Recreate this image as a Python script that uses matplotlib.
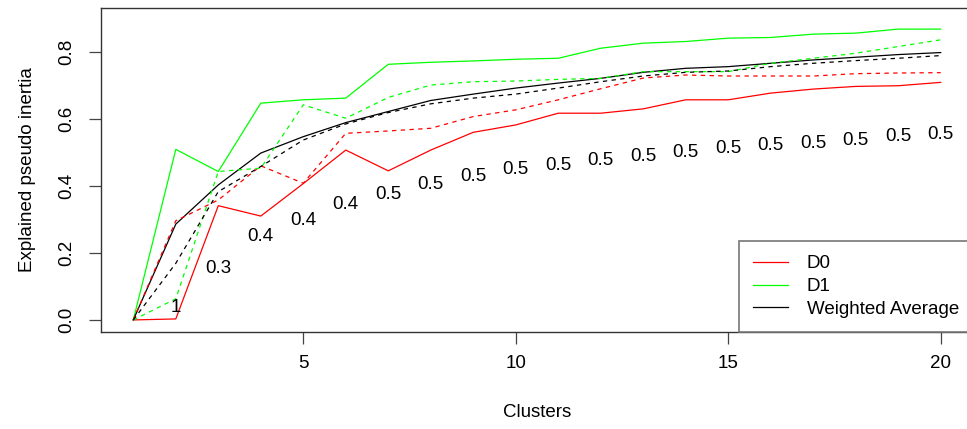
import matplotlib
matplotlib.use("Agg")
import matplotlib.pyplot as plt

plt.rcParams['font.family'] = ['Liberation Sans', 'DejaVu Sans']

# Number of clusters on the x axis
clusters = list(range(1, 21))

# Solid lines
d0 = [0, 0.003, 0.341, 0.31, 0.407, 0.507, 0.445, 0.507, 0.56, 0.582,
      0.617, 0.617, 0.63, 0.657, 0.657, 0.677, 0.689, 0.697, 0.699, 0.709]
d1 = [0, 0.509, 0.443, 0.647, 0.657, 0.662, 0.763, 0.769, 0.773, 0.778,
      0.781, 0.811, 0.826, 0.831, 0.841, 0.843, 0.853, 0.856, 0.868, 0.868]
wavg = [0, 0.286, 0.403, 0.498, 0.547, 0.589, 0.622, 0.655, 0.674, 0.692,
        0.707, 0.721, 0.739, 0.751, 0.756, 0.766, 0.776, 0.784, 0.792, 0.798]

# Dashed lines
d0_dash = [0, 0.296, 0.358, 0.46, 0.408, 0.557, 0.564, 0.572, 0.607, 0.627,
           0.657, 0.69, 0.722, 0.731, 0.728, 0.728, 0.728, 0.735, 0.737, 0.738]
d1_dash = [0, 0.063, 0.443, 0.453, 0.642, 0.602, 0.664, 0.701, 0.711, 0.713,
           0.718, 0.721, 0.741, 0.741, 0.741, 0.766, 0.781, 0.796, 0.816, 0.836]
wavg_dash = [0, 0.169, 0.383, 0.458, 0.537, 0.585, 0.619, 0.645, 0.662, 0.674,
             0.692, 0.711, 0.728, 0.739, 0.743, 0.756, 0.766, 0.774, 0.781, 0.789]

# Text labels written on the plot (clusters 2..20)
label_x = list(range(2, 21))
label_text = ["1", "0.3", "0.4", "0.4", "0.4"] + ["0.5"] * 14
label_y = [0.036, 0.155, 0.248, 0.296, 0.345, 0.373, 0.403, 0.427, 0.448, 0.46,
           0.475, 0.487, 0.5, 0.513, 0.52, 0.528, 0.537, 0.546, 0.552]


def draw_plot():
    fig = plt.figure(figsize=(9.67, 4.29), dpi=100)
    ax = fig.add_axes([101 / 967, 97 / 429, 872 / 967, 324 / 429])

    fs = 13.5
    lw = 0.9
    dash = (0, (3.5, 3.5))
    ax.plot(clusters, d0, color='#ff0000', linewidth=lw, label='D0')
    ax.plot(clusters, d1, color='#00ff00', linewidth=lw, label='D1')
    ax.plot(clusters, wavg, color='black', linewidth=lw, label='Weighted Average')
    ax.plot(clusters, d0_dash, color='#ff0000', linewidth=lw, linestyle=dash)
    ax.plot(clusters, d1_dash, color='#00ff00', linewidth=lw, linestyle=dash)
    ax.plot(clusters, wavg_dash, color='black', linewidth=lw, linestyle=dash)

    for x, y, t in zip(label_x, label_y, label_text):
        ax.text(x, y, t, ha='center', va='center', fontsize=fs)

    ax.set_xlim(0.24, 20.76)
    ax.set_ylim(-0.036, 0.931)
    ax.set_xticks([5, 10, 15, 20])
    ax.set_yticks([0.0, 0.2, 0.4, 0.6, 0.8])
    ax.set_yticklabels(['0.0', '0.2', '0.4', '0.6', '0.8'], rotation=90, va='center')

    for s in ax.spines.values():
        s.set_color('#333333')
        s.set_linewidth(1.0)
    ax.tick_params(axis='both', labelsize=fs, length=8.5, width=0.9,
                   color='#444444', direction='out')
    ax.tick_params(axis='x', pad=8)
    ax.tick_params(axis='y', pad=10)

    ax.set_xlabel('Clusters', fontsize=fs, labelpad=23)
    ax.set_ylabel('Explained pseudo inertia', fontsize=fs, labelpad=16)

    leg = ax.legend(loc='lower right', fontsize=fs, borderaxespad=0, fancybox=False,
                    handlelength=1.87, handletextpad=1.0, borderpad=0.75,
                    labelspacing=0.3, framealpha=1)
    leg.get_frame().set_edgecolor('#777777')
    leg.get_frame().set_linewidth(1.2)

    fig.savefig('out.png', dpi=100)


if __name__ == '__main__':
    draw_plot()
